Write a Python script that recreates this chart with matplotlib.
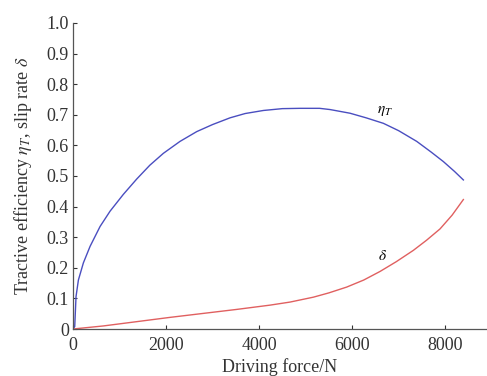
import numpy as np
import matplotlib
matplotlib.use('Agg')
import matplotlib.pyplot as plt

plt.rcParams['font.family'] = ['Liberation Serif', 'DejaVu Serif']
plt.rcParams['mathtext.fontset'] = 'stix'

# tractive efficiency eta_T
force_eta = [0, 36, 64, 115, 222, 366, 581, 796, 1082, 1369, 1650, 1942,
             2300, 2660, 3000, 3376, 3700, 4093, 4500, 4880, 5300, 5525,
             5955, 6300, 6672, 7000, 7389, 7700, 7962, 8200, 8392]
eta = [0, 0.008, 0.106, 0.16, 0.216, 0.27, 0.335, 0.385, 0.44, 0.49, 0.535,
       0.574, 0.613, 0.645, 0.668, 0.69, 0.704, 0.714, 0.72, 0.721, 0.721,
       0.717, 0.705, 0.69, 0.672, 0.648, 0.613, 0.578, 0.547, 0.515, 0.487]

# slip rate delta
force_delta = [0, 652, 1369, 2086, 2802, 3519, 4236, 4666, 5167, 5500, 5884,
               6250, 6600, 6950, 7317, 7600, 7890, 8150, 8392]
delta = [0, 0.01, 0.024, 0.038, 0.051, 0.064, 0.078, 0.088, 0.104, 0.118,
         0.137, 0.16, 0.188, 0.22, 0.257, 0.29, 0.327, 0.372, 0.423]

xticks = [0, 2000, 4000, 6000, 8000]
yticks = [0, 0.1, 0.2, 0.3, 0.4, 0.5, 0.6, 0.7, 0.8, 0.9, 1.0]
ylabels = ['0'] + ['%.1f' % v for v in yticks[1:]]

fig = plt.figure(figsize=(4.87, 3.76), dpi=100)
ax = fig.add_axes([0.150, 0.125, 0.850, 0.814])

ax.plot(force_eta, eta, color='#4a4ec0', lw=1.0)
ax.plot(force_delta, delta, color='#e06060', lw=1.0)

ax.text(6710, 0.712, r'$\eta_T$', fontsize=11, ha='center', va='center')
ax.text(6660, 0.238, r'$\delta$', fontsize=11, ha='center', va='center')

ax.set_xlim(0, 8900)
ax.set_ylim(0, 1.0)
ax.set_xticks(xticks)
ax.set_yticks(yticks)
ax.set_yticklabels(ylabels)
ax.tick_params(direction='in', length=3, width=0.8, labelsize=13,
               colors='#333333', pad=3)
ax.tick_params(axis='x', pad=6)
for s in ['top', 'right']:
    ax.spines[s].set_visible(False)
for s in ['left', 'bottom']:
    ax.spines[s].set_color('#555555')
    ax.spines[s].set_linewidth(0.9)

ax.set_xlabel('Driving force/N', fontsize=13, color='#333333', labelpad=3)
ax.set_ylabel(r'Tractive efficiency $\eta_T$, slip rate $\delta$',
              fontsize=13, color='#333333', labelpad=9)

fig.savefig('out.png', dpi=100)
